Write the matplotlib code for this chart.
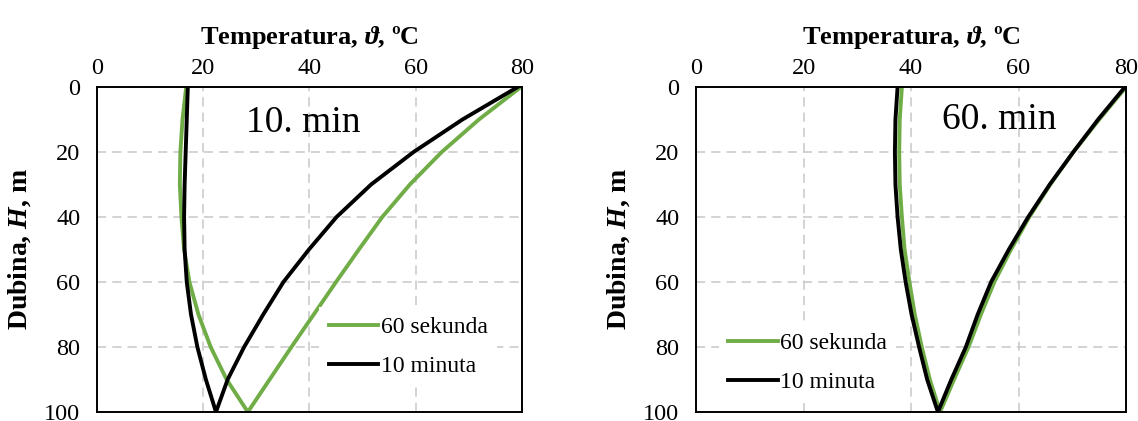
import matplotlib
matplotlib.use("Agg")
import matplotlib.pyplot as plt

plt.rcParams['font.family'] = ['Liberation Serif', 'DejaVu Serif']
plt.rcParams['mathtext.fontset'] = 'custom'
plt.rcParams['mathtext.it'] = 'Liberation Serif:italic:bold'
plt.rcParams['mathtext.rm'] = 'Liberation Serif:bold'

# depth (m): down the pipe then back up
depth = [0, 10, 20, 30, 40, 50, 60, 70, 80, 90, 100,
         90, 80, 70, 60, 50, 40, 30, 20, 10, 0]

# 10. min panel
t10_60s = [16.8, 16.1, 15.7, 15.6, 15.9, 16.4, 17.4, 19.1, 21.4, 24.4, 28.4,
           32.5, 36.6, 40.8, 45.0, 49.3, 53.7, 58.9, 64.9, 71.9, 79.8]
t10_10min = [17.1, 16.9, 16.7, 16.5, 16.4, 16.5, 16.9, 17.7, 18.9, 20.5, 22.4,
             24.6, 27.7, 31.3, 35.1, 39.9, 45.1, 51.6, 59.6, 68.8, 79.2]

# 60. min panel
t60_60s = [38.3, 37.9, 37.8, 37.9, 38.3, 38.8, 39.7, 40.7, 42.0, 43.5, 45.4,
           48.0, 50.7, 53.0, 55.5, 58.6, 62.0, 65.9, 70.2, 75.0, 80.0]
t60_10min = [37.5, 37.1, 37.0, 37.1, 37.5, 38.1, 39.0, 40.1, 41.5, 43.0, 45.0,
             47.5, 50.2, 52.4, 54.9, 58.2, 61.8, 65.8, 70.2, 74.8, 79.8]

labels = ['60 sekunda', '10 minuta']
green = '#70ad47'

fig = plt.figure(figsize=(11.38, 4.21), dpi=100)
ax1 = fig.add_axes([0.0852, 0.0214, 0.3735, 0.772])
ax2 = fig.add_axes([0.6116, 0.0214, 0.3779, 0.772])

panels = [(ax1, t10_60s, t10_10min, '10. min', (0.486, 0.89), (0.495, 0.36)),
          (ax2, t60_60s, t60_10min, '60. min', (0.705, 0.90), (0.025, 0.31))]

for ax, g, k, title, tpos, lpos in panels:
    ax.plot(g, depth, color=green, lw=2.8, label=labels[0])
    ax.plot(k, depth, color='black', lw=2.8, label=labels[1])
    ax.set_xlim(0, 80)
    ax.set_ylim(100, 0)
    ax.set_xticks([0, 20, 40, 60, 80])
    ax.set_yticks([0, 20, 40, 60, 80, 100])
    ax.xaxis.tick_top()
    ax.xaxis.set_label_position('top')
    ax.tick_params(axis='x', length=0, labelsize=17.5, pad=6)
    ax.tick_params(axis='y', length=0, labelsize=17.5, pad=12)
    ax.grid(True, color='#c8c8c8', ls=(0, (6, 4)), lw=1.1)
    for s in ax.spines.values():
        s.set_linewidth(1.4)
    ax.set_xlabel('Temperatura, $\\vartheta$, ºC', fontsize=19, fontweight='bold', labelpad=10)
    ax.set_ylabel('Dubina, $H$, m', fontsize=20, fontweight='bold', labelpad=8)
    ax.text(tpos[0], tpos[1], title, transform=ax.transAxes, fontsize=27,
            ha='center', va='center')
    ax.legend(loc='upper left', bbox_to_anchor=lpos, fontsize=17, frameon=True,
              facecolor='white', edgecolor='none', framealpha=1, fancybox=False,
              handlelength=2.1, handletextpad=0.1, labelspacing=0.75, borderpad=0.4)

fig.savefig('out.png', dpi=100)
